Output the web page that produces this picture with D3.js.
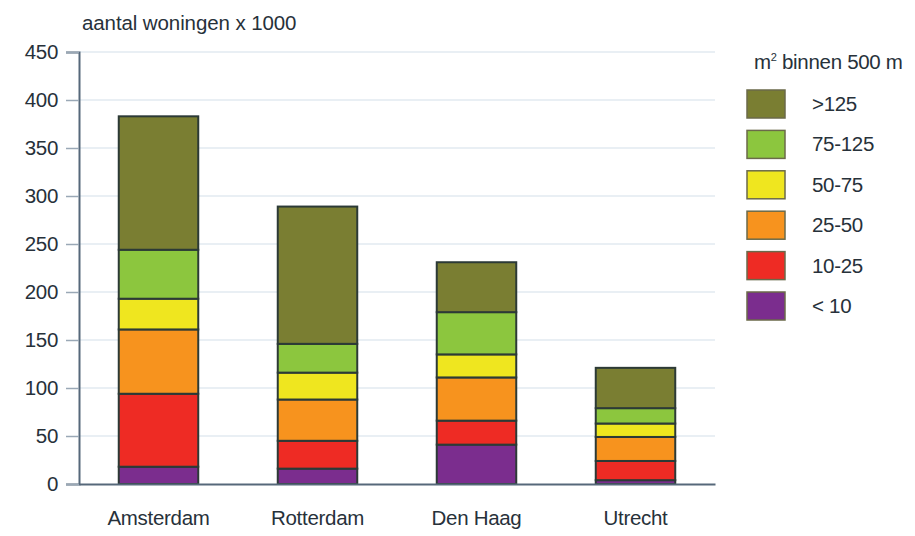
<!DOCTYPE html>
<html>
<head>
<meta charset="utf-8">
<script src="https://cdn.jsdelivr.net/npm/d3@7"></script>
<style>
  html, body { margin: 0; padding: 0; background: #fff; }
  svg { display: block; }
  text { font-family: "Liberation Sans", Arial, sans-serif; fill: #27313a; }
</style>
</head>
<body>
<svg id="chart" width="915" height="536"></svg>
<script>
const cities = ["Amsterdam", "Rotterdam", "Den Haag", "Utrecht"];
const classes = ["< 10", "10-25", "25-50", "50-75", "75-125", ">125"];
const colors = ["#7b2d8e", "#ee2b24", "#f7931e", "#efe61f", "#8cc63e", "#7a7e32"];
// values per class (bottom to top), one entry per city
const lt10    = [18, 16, 41, 4];
const c10_25  = [76, 29, 25, 20];
const c25_50  = [67, 43, 45, 25];
const c50_75  = [32, 28, 24, 14];
const c75_125 = [51, 30, 44, 16];
const gt125   = [139, 143, 52, 42];
const yTicks  = [0, 50, 100, 150, 200, 250, 300, 350, 400, 450];
const yTitle  = "aantal woningen x 1000";

const seriesVals = [lt10, c10_25, c25_50, c50_75, c75_125, gt125];
const table = cities.map((c, i) => {
  const row = { city: c };
  classes.forEach((k, j) => row[k] = seriesVals[j][i]);
  return row;
});

const FS = 20.5;
const svg = d3.select("#chart");
const mLeft = 79, mRight = 715, mTop = 52, mBottom = 484;

const x = d3.scaleBand().domain(cities).range([mLeft, mRight]).paddingInner(0.5).paddingOuter(0.25);
const y = d3.scaleLinear().domain([0, 450]).range([mBottom, mTop]);

// gridlines
svg.append("g").selectAll("line").data(yTicks.filter(d => d > 0)).join("line")
  .attr("x1", mLeft).attr("x2", mRight)
  .attr("y1", d => y(d)).attr("y2", d => y(d))
  .attr("stroke", "#e2eaf1").attr("stroke-width", 1.5);

// y axis
const yAxis = d3.axisLeft(y).tickValues(yTicks).tickSize(13).tickPadding(8);
const gy = svg.append("g").attr("transform", `translate(${mLeft},0)`).call(yAxis);
gy.select(".domain").attr("stroke", "#56687a").attr("stroke-width", 2);
gy.selectAll(".tick line").attr("stroke", "#9aa8b6").attr("stroke-width", 1.5);
gy.selectAll(".tick text").attr("font-size", FS).attr("fill", "#27313a")
  .style("font-family", '"Liberation Sans", Arial, sans-serif').attr("letter-spacing", -0.3);

// stacked bars
const stack = d3.stack().keys(classes)(table);
svg.append("g").selectAll("g").data(stack).join("g")
  .attr("fill", (d, i) => colors[i])
  .selectAll("rect").data(d => d).join("rect")
  .attr("x", d => x(d.data.city))
  .attr("width", x.bandwidth())
  .attr("y", d => y(d[1]))
  .attr("height", d => y(d[0]) - y(d[1]))
  .attr("stroke", "#2c3a36").attr("stroke-width", 2);

// x axis
const xAxis = d3.axisBottom(x).tickSize(0).tickPadding(26);
const gx = svg.append("g").attr("transform", `translate(0,${mBottom})`).call(xAxis);
gx.select(".domain").attr("stroke", "#56687a").attr("stroke-width", 2);
gx.selectAll(".tick text").attr("font-size", FS).attr("fill", "#27313a")
  .style("font-family", '"Liberation Sans", Arial, sans-serif').attr("letter-spacing", -0.3);

// y title
svg.append("text").attr("x", 82).attr("y", 30).attr("font-size", FS)
  .attr("letter-spacing", -0.1).text(yTitle);

// legend
const lg = svg.append("g");
const lt = lg.append("text").attr("x", 754).attr("y", 69).attr("font-size", FS).attr("letter-spacing", -0.3);
lt.append("tspan").text("m");
lt.append("tspan").attr("font-size", 11).attr("dy", -8).text("2");
lt.append("tspan").attr("dy", 8).text(" binnen 500 m");

const legendOrder = classes.map((c, i) => ({ c, col: colors[i] })).reverse();
const li = lg.selectAll("g.item").data(legendOrder).join("g").attr("class", "item")
  .attr("transform", (d, i) => `translate(747,${90 + i * 40.4})`);
li.append("rect").attr("width", 38).attr("height", 28)
  .attr("fill", d => d.col).attr("stroke", "#6b6a4a").attr("stroke-width", 1.5);
li.append("text").attr("x", 65).attr("y", 21).attr("font-size", FS)
  .attr("letter-spacing", -0.3).text(d => d.c);
</script>
</body>
</html>
